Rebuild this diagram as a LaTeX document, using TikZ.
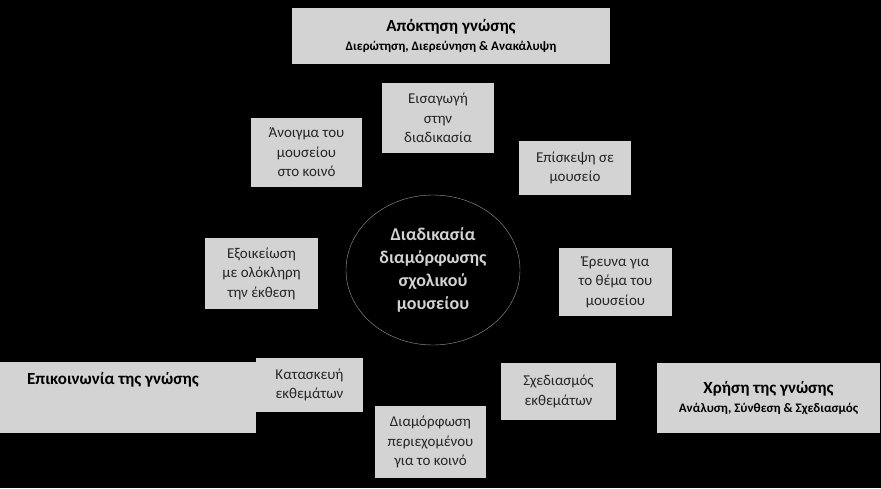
\documentclass[tikz,border=0pt]{standalone}
\usepackage{fontspec}
\setmainfont{Carlito}
\usetikzlibrary{shapes.geometric}
\begin{document}
\begin{tikzpicture}[x=1pt,y=-1pt,
 bx/.style={fill=boxgray,draw=none,text=black!85,align=center,font=\fontsize{15}{19.5}\selectfont,inner sep=0pt},
 big/.style={fill=boxgray,draw=none,text=black,align=center,inner sep=0pt,font=\bfseries\fontsize{13}{16}\selectfont}]
\definecolor{boxgray}{HTML}{D3D3D3}
\fill[black] (0,0) rectangle (881,488);
\useasboundingbox (0,0) rectangle (881,488);
\node[big,minimum width=318pt,minimum height=56pt] (top) at (451,36) {{\fontsize{17}{20}\selectfont Απόκτηση γνώσης}\\[3pt]Διερώτηση, Διερεύνηση \& Ανακάλυψη};
\node[bx,minimum width=112pt,minimum height=70pt] (intro) at (438,118) {Εισαγωγή\\στην\\διαδικασία};
\node[bx,minimum width=111pt,minimum height=69pt] (open) at (306.5,152.5) {Άνοιγμα του\\μουσείου\\στο κοινό};
\node[bx,minimum width=112pt,minimum height=54pt] (visit) at (575,168) {Επίσκεψη σε\\μουσείο};
\node[ellipse,draw=gray!80,fill=black,text=boxgray,minimum width=174pt,minimum height=150pt,align=center,inner sep=0pt,font=\bfseries\fontsize{18}{23}\selectfont] (c) at (433,270) {Διαδικασία\\διαμόρφωσης\\σχολικού\\μουσείου};
\node[bx,minimum width=113pt,minimum height=71pt] (fam) at (261.5,273.5) {Εξοικείωση\\με ολόκληρη\\την έκθεση};
\node[bx,minimum width=113pt,minimum height=68pt] (res) at (615.5,282) {Έρευνα για\\το θέμα του\\μουσείου};
\node[big,minimum width=256pt,minimum height=71pt,anchor=north west] (comm) at (0,362) {};
\node[text=black,font=\bfseries\fontsize{17}{20}\selectfont] (commt) at (113,380) {Επικοινωνία της γνώσης};
\node[bx,minimum width=107pt,minimum height=54pt] (build) at (309.5,385) {Κατασκευή\\εκθεμάτων};
\node[bx,minimum width=115pt,minimum height=57pt] (design) at (558.5,391.5) {Σχεδιασμός\\εκθεμάτων};
\node[bx,minimum width=111pt,minimum height=72pt] (form) at (430.5,442) {Διαμόρφωση\\περιεχομένου\\για το κοινό};
\node[big,minimum width=223pt,minimum height=70pt] (use) at (768.5,398) {{\fontsize{17}{20}\selectfont Χρήση της γνώσης}\\[3pt]Ανάλυση, Σύνθεση \& Σχεδιασμός};
\end{tikzpicture}
\end{document}
